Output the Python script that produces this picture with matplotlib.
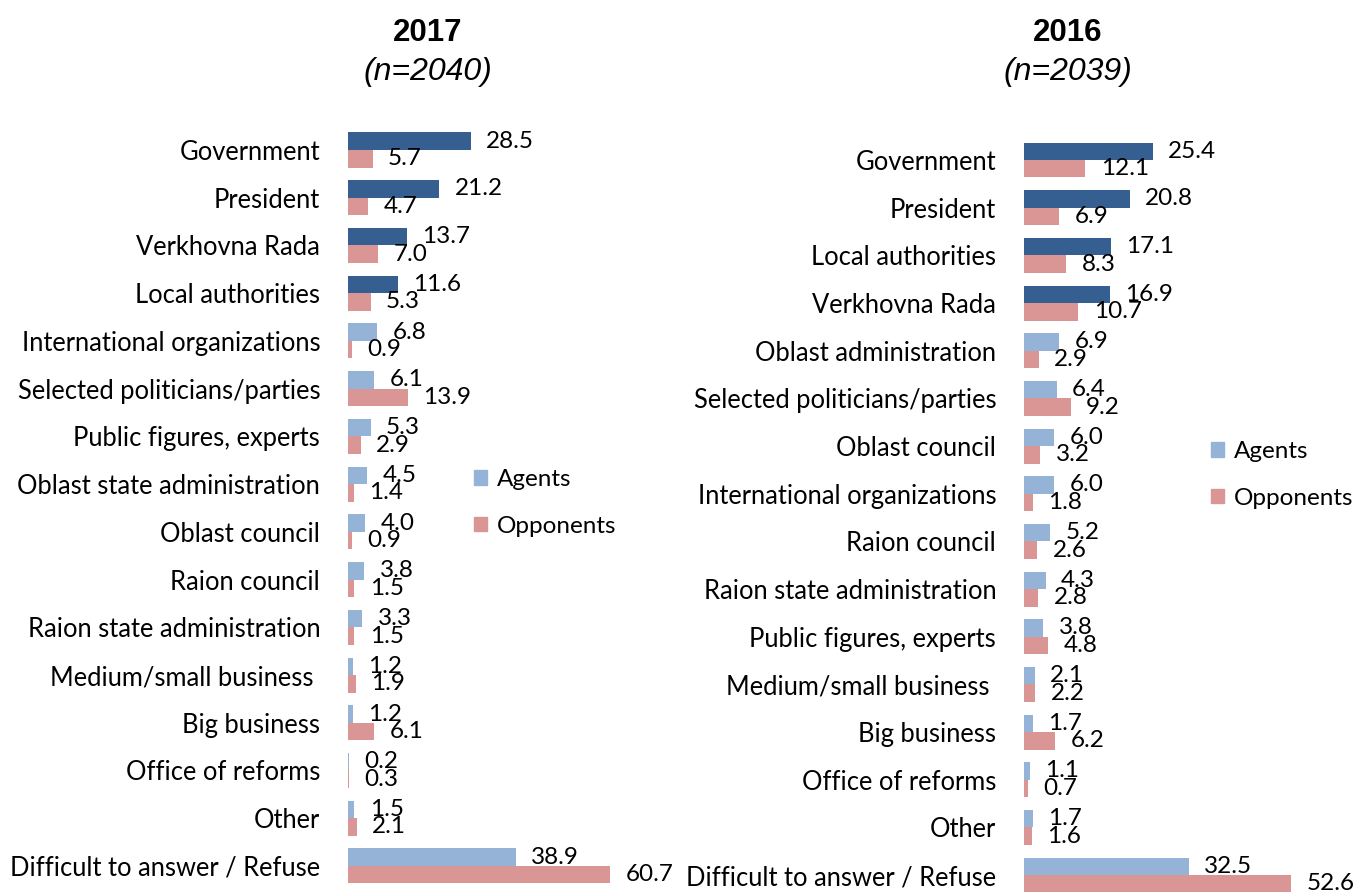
import matplotlib
matplotlib.use("Agg")
import matplotlib.pyplot as plt
from matplotlib.patches import Patch

# 2017 survey
cats17 = ["Government", "President", "Verkhovna Rada", "Local authorities",
          "International organizations", "Selected politicians/parties",
          "Public figures, experts", "Oblast state administration",
          "Oblast council", "Raion council", "Raion state administration",
          "Medium/small business ", "Big business", "Office of reforms",
          "Other", "Difficult to answer / Refuse"]
agents17 = [28.5, 21.2, 13.7, 11.6, 6.8, 6.1, 5.3, 4.5, 4.0, 3.8, 3.3, 1.2, 1.2, 0.2, 1.5, 38.9]
opp17 = [5.7, 4.7, 7.0, 5.3, 0.9, 13.9, 2.9, 1.4, 0.9, 1.5, 1.5, 1.9, 6.1, 0.3, 2.1, 60.7]

# 2016 survey
cats16 = ["Government", "President", "Local authorities", "Verkhovna Rada",
          "Oblast administration", "Selected politicians/parties",
          "Oblast council", "International organizations", "Raion council",
          "Raion state administration", "Public figures, experts",
          "Medium/small business ", "Big business", "Office of reforms",
          "Other", "Difficult to answer / Refuse"]
agents16 = [25.4, 20.8, 17.1, 16.9, 6.9, 6.4, 6.0, 6.0, 5.2, 4.3, 3.8, 2.1, 1.7, 1.1, 1.7, 32.5]
opp16 = [12.1, 6.9, 8.3, 10.7, 2.9, 9.2, 3.2, 1.8, 2.6, 2.8, 4.8, 2.2, 6.2, 0.7, 1.6, 52.6]

DARK = "#365F91"
LIGHT = "#95B3D7"
PINK = "#D99694"
FONT = "Lato"
FS = 18.4   # category labels
VS = 17.5   # value labels and legend

W, H = 1357, 892
fig = plt.figure(figsize=(W / 100, H / 100), dpi=100)


def px_axes(x0, zero_top, pitch, xmax, px_per_unit, n=16):
    # axes placed in pixel units: category i sits at y = i
    top = zero_top - pitch / 2
    bottom = zero_top + pitch * (n - 1) + pitch / 2
    width = xmax * px_per_unit
    return fig.add_axes([x0 / W, 1 - bottom / H, width / W, (bottom - top) / H])


def panel(ax, cats, agents, opp, xmax, title, sub, title_x, legend_xy):
    n = len(cats)
    h = 0.367
    ys = list(range(n))
    colors = [DARK if i < 4 else LIGHT for i in range(n)]
    ax.barh([y - h / 2 for y in ys], agents, height=h, color=colors, edgecolor="none")
    ax.barh([y + h / 2 for y in ys], opp, height=h, color=PINK, edgecolor="none")
    for y, a, o in zip(ys, agents, opp):
        ax.annotate(f"{a:.1f}", (a, y - h / 2), xytext=(11, 0), textcoords="offset points",
                    va="center", ha="left", fontsize=VS, family=FONT, annotation_clip=False)
        ax.annotate(f"{o:.1f}", (o, y + h / 2), xytext=(11, 0), textcoords="offset points",
                    va="center", ha="left", fontsize=VS, family=FONT, annotation_clip=False)
    ax.set_xlim(0, xmax)
    ax.set_ylim(n - 0.5, -0.5)
    ax.set_yticks(ys)
    ax.set_yticklabels(cats, fontsize=FS, family=FONT)
    ax.tick_params(axis="y", length=0, pad=20)
    ax.set_xticks([])
    for s in ax.spines.values():
        s.set_visible(False)
    fig.text(title_x / W, 1 - 33 / H, title, ha="center", va="center",
             fontsize=22.5, fontweight="bold", family="Liberation Sans")
    fig.text(title_x / W, 1 - 72 / H, sub, ha="center", va="center",
             fontsize=23, style="italic", family="Liberation Sans")
    handles = [Patch(color=LIGHT, label="Agents"), Patch(color=PINK, label="Opponents")]
    fig.legend(handles=handles, loc="upper left",
               bbox_to_anchor=(legend_xy[0] / W, 1 - legend_xy[1] / H),
               frameon=False, prop={"family": FONT, "size": VS},
               handlelength=0.55, handleheight=0.55, handletextpad=0.4,
               labelspacing=1.05, borderpad=0, borderaxespad=0)


ax1 = px_axes(348, 150, 47.73, 65, 4.316)
panel(ax1, cats17, agents17, opp17, 65, "2017", "(n=2040)", 428, (474, 469))

ax2 = px_axes(1024, 160, 47.67, 60, 5.08)
panel(ax2, cats16, agents16, opp16, 60, "2016", "(n=2039)", 1068, (1211, 441))

fig.savefig("out.png", dpi=100)
